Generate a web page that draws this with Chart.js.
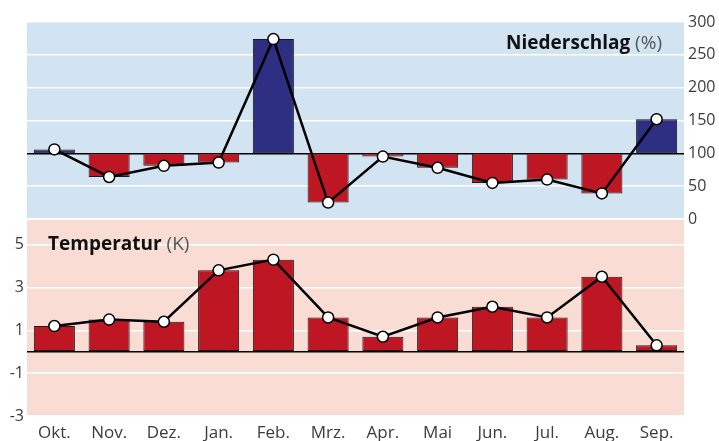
<!DOCTYPE html>
<html>
<head>
<meta charset="utf-8">
<script src="https://cdn.jsdelivr.net/npm/chart.js@4"></script>
<style>
  html, body { margin: 0; padding: 0; background: #fff; }
  #wrap { position: relative; width: 719px; height: 441px; }
  canvas { position: absolute; left: 0; top: 0; }
</style>
</head>
<body>
<div id="wrap">
  <canvas id="rainChart" width="719" height="441"></canvas>
  <canvas id="tempChart" width="719" height="441"></canvas>
</div>
<script>
// --- Data ---
const MONTHS = ['Okt.', 'Nov.', 'Dez.', 'Jan.', 'Feb.', 'Mrz.', 'Apr.', 'Mai', 'Jun.', 'Jul.', 'Aug.', 'Sep.'];
const RAIN_PCT = [106, 64, 81, 86, 274, 25, 95, 78, 55, 60, 39, 152];   // Niederschlag in % of normal
const TEMP_K = [1.2, 1.5, 1.4, 3.8, 4.3, 1.6, 0.7, 1.6, 2.1, 1.6, 3.5, 0.3]; // Temperatur deviation in K
const RAIN_TICKS = [0, 50, 100, 150, 200, 250, 300];
const TEMP_TICKS = [-3, -1, 0, 1, 3, 5];
const RAIN_BASE = 100;

const BLUE = '#2e2e82';
const RED = '#be1622';
const TICK_FONT = { family: 'Open Sans', size: 16 };
const TICK_COLOR = '#3c3c3c';

// fills the plot area and writes the panel title
function panelPlugin(id, bg, title, unit, align, x, y) {
  return {
    id,
    beforeDraw(chart) {
      const a = chart.chartArea;
      const ctx = chart.ctx;
      ctx.save();
      ctx.fillStyle = bg;
      ctx.fillRect(a.left, a.top, a.right - a.left, a.bottom - a.top);
      ctx.restore();
    },
    afterDatasetsDraw(chart) {
      const ctx = chart.ctx;
      ctx.save();
      ctx.textBaseline = 'alphabetic';
      ctx.font = 'bold 19px "Open Sans"';
      const w1 = ctx.measureText(title).width;
      ctx.font = '19px "Open Sans"';
      const w2 = ctx.measureText(unit).width;
      const x0 = align === 'right' ? x - w1 - w2 : x;
      ctx.fillStyle = '#111';
      ctx.font = 'bold 19px "Open Sans"';
      ctx.fillText(title, x0, y);
      ctx.fillStyle = '#555';
      ctx.font = '19px "Open Sans"';
      ctx.fillText(unit, x0 + w1, y);
      ctx.restore();
    }
  };
}

const lineStyle = {
  type: 'line',
  borderColor: '#000',
  borderWidth: 2.5,
  pointBackgroundColor: '#fff',
  pointBorderColor: '#000',
  pointBorderWidth: 1.5,
  pointRadius: 5.5,
  tension: 0,
  order: 0
};

// --- Top panel: Niederschlag ---
new Chart(document.getElementById('rainChart'), {
  type: 'bar',
  data: {
    labels: MONTHS,
    datasets: [
      Object.assign({ data: RAIN_PCT }, lineStyle),
      {
        data: RAIN_PCT.map(v => [RAIN_BASE, v]),
        backgroundColor: RAIN_PCT.map(v => v >= RAIN_BASE ? BLUE : RED),
        borderColor: '#1a1a1a',
        borderWidth: 1,
        borderSkipped: false,
        barPercentage: 0.75,
        categoryPercentage: 1,
        order: 1
      }
    ]
  },
  options: {
    responsive: false,
    devicePixelRatio: 1,
    animation: false,
    layout: { padding: { left: 27, top: 22, right: 0, bottom: 441 - 219 } },
    plugins: { legend: { display: false }, tooltip: { enabled: false } },
    scales: {
      x: { display: false, offset: true },
      y: {
        position: 'right',
        min: 0,
        max: 300,
        afterBuildTicks: s => { s.ticks = RAIN_TICKS.map(v => ({ value: v })); },
        afterFit: s => { s.width = 35; },
        border: { display: false },
        grid: {
          drawTicks: false,
          lineWidth: 1.5,
          color: c => c.tick.value === RAIN_BASE ? '#000' : '#fff'
        },
        ticks: { font: TICK_FONT, color: TICK_COLOR, padding: 4 }
      }
    }
  },
  plugins: [panelPlugin('rainPanel', '#d2e3f1', 'Niederschlag', ' (%)', 'right', 662, 49)]
});

// --- Bottom panel: Temperatur ---
new Chart(document.getElementById('tempChart'), {
  type: 'bar',
  data: {
    labels: MONTHS,
    datasets: [
      Object.assign({ data: TEMP_K }, lineStyle),
      {
        data: TEMP_K,
        backgroundColor: TEMP_K.map(v => v >= 0 ? RED : BLUE),
        borderColor: '#1a1a1a',
        borderWidth: 1,
        borderSkipped: false,
        barPercentage: 0.75,
        categoryPercentage: 1,
        order: 1
      }
    ]
  },
  options: {
    responsive: false,
    devicePixelRatio: 1,
    animation: false,
    layout: { padding: { left: 0, top: 220, right: 35, bottom: 0 } },
    plugins: { legend: { display: false }, tooltip: { enabled: false } },
    scales: {
      x: {
        offset: true,
        afterFit: s => { s.height = 25; },
        border: { display: false },
        grid: { display: false, drawTicks: false },
        ticks: { font: { family: 'Open Sans', size: 17 }, color: TICK_COLOR, padding: 7, maxRotation: 0 }
      },
      y: {
        position: 'left',
        min: -3,
        max: 6.15,
        afterBuildTicks: s => { s.ticks = TEMP_TICKS.map(v => ({ value: v })); },
        afterFit: s => { s.width = 27; },
        border: { display: false },
        grid: {
          drawTicks: false,
          lineWidth: 1.5,
          color: c => c.tick.value === 0 ? '#000' : '#fff'
        },
        ticks: {
          font: TICK_FONT,
          color: TICK_COLOR,
          padding: 3,
          callback: v => v === 0 ? '' : String(v)
        }
      }
    }
  },
  plugins: [panelPlugin('tempPanel', '#f9dcd4', 'Temperatur', ' (K)', 'left', 48, 250)]
});
</script>
</body>
</html>
